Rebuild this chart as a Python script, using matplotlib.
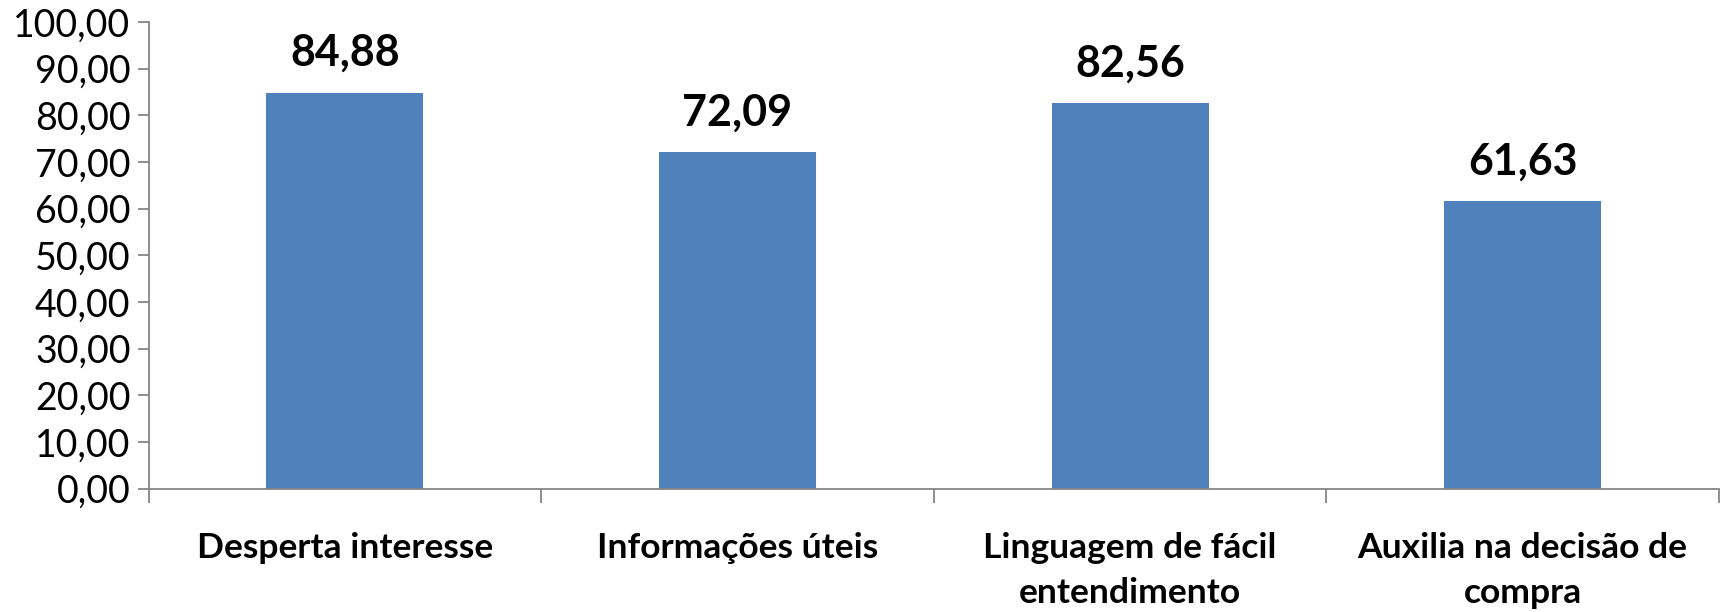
import matplotlib
matplotlib.use("Agg")
import matplotlib.pyplot as plt
from matplotlib.ticker import FixedLocator, FuncFormatter

categories = ["Desperta interesse", "Informações úteis",
              "Linguagem de fácil\nentendimento", "Auxilia na decisão de\ncompra"]
values = [84.88, 72.09, 82.56, 61.63]
value_labels = ["84,88", "72,09", "82,56", "61,63"]
yticks = [0, 10, 20, 30, 40, 50, 60, 70, 80, 90, 100]

plt.rcParams['font.family'] = ['Lato', 'DejaVu Sans']

fig = plt.figure(figsize=(17.25, 6.12), dpi=100)
ax = fig.add_axes([148.5/1725, 1-488.5/612, (1719-148.5)/1725, (488.5-22)/612])

x = list(range(len(categories)))
bars = ax.bar(x, values, width=0.40, color="#4F81BD", zorder=2)

ax.set_xlim(-0.5, len(categories) - 0.5)
ax.set_ylim(0, 100)

for spine in ["top", "right"]:
    ax.spines[spine].set_visible(False)
for spine in ["left", "bottom"]:
    ax.spines[spine].set_color("#868686")
    ax.spines[spine].set_linewidth(1.3)

ax.yaxis.set_major_locator(FixedLocator(yticks))
ax.yaxis.set_major_formatter(FuncFormatter(lambda v, p: f"{v:.2f}".replace(".", ",")))
ax.tick_params(axis="y", direction="out", length=8, width=1.3, color="#868686",
               labelsize=27, pad=5)

# category boundaries as major ticks, labels at minor ticks
ax.xaxis.set_major_locator(FixedLocator([i - 0.5 for i in range(len(categories) + 1)]))
ax.xaxis.set_major_formatter(FuncFormatter(lambda v, p: ""))
ax.xaxis.set_minor_locator(FixedLocator(x))
ax.set_xticklabels(categories, minor=True, fontweight="bold", fontsize=25.5,
                   linespacing=1.5, va="top")
ax.tick_params(axis="x", which="major", direction="out", length=10, width=1.3,
               color="#868686")
ax.tick_params(axis="x", which="minor", length=0, pad=31)

for b, lab in zip(bars, value_labels):
    ax.annotate(lab, (b.get_x() + b.get_width()/2, b.get_height()),
                xytext=(0, 14), textcoords="offset points",
                ha="center", va="bottom", fontsize=31, fontweight="bold")

fig.savefig("out.png", dpi=100)
